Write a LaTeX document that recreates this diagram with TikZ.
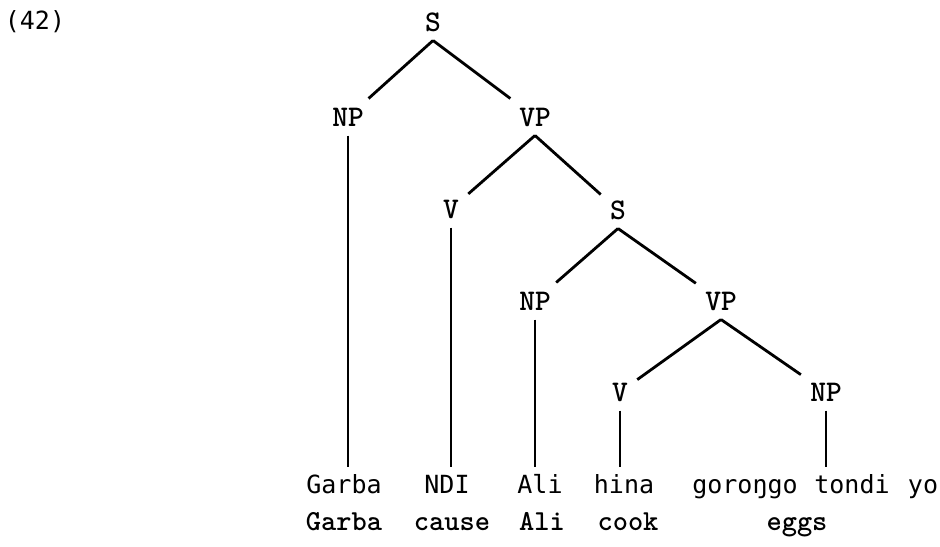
\documentclass[tikz,border=0pt]{standalone}
\usepackage{fontspec}
\newfontfamily\wordfont{DejaVu Sans Mono}

\tikzset{
  cat/.style={font=\fontsize{15}{17}\ttfamily\bfseries, inner sep=4.5pt, text height=9.1pt, text depth=0pt},
  word/.style={font=\fontsize{12.5}{14}\wordfont, anchor=base, inner xsep=0pt, inner ysep=3.8pt, text height=9pt, text depth=3pt},
  gloss/.style={font=\fontsize{14.5}{16}\ttfamily\bfseries, anchor=base, inner sep=0pt},
  branch/.style={line width=1.4pt}
}

\begin{document}
\begin{tikzpicture}[x=0.5pt, y=-0.5pt]
  \useasboundingbox (0,0) rectangle (940,546);
  \node[font=\fontsize{12.5}{14}\wordfont] (exno) at (35,22) {(42)};

  % categories
  \node[cat] (s1)  at (433,22)  {S};
  \node[cat] (np1) at (348,117) {NP};
  \node[cat] (vp1) at (535,117) {VP};
  \node[cat] (v1)  at (451,209) {V};
  \node[cat] (s2)  at (618,210) {S};
  \node[cat] (np2) at (535,301) {NP};
  \node[cat] (vp2) at (721,301) {VP};
  \node[cat] (v2)  at (620,392) {V};
  \node[cat] (np3) at (826,392) {NP};

  % Songhay line
  \node[word] (garba)   at (344,493) {Garba};
  \node[word] (ndi)     at (447,493) {NDI};
  \node[word] (ali)     at (540,493) {Ali};
  \node[word] (hina)    at (624,493) {hina};
  \node[word] (gorongo) at (745,493) {goroŋgo};
  \node[word] (tondi)   at (852,493) {tondi};
  \node[word] (yo)      at (923,493) {yo};

  % glosses
  \node[gloss] (gGarba) at (344,530) {Garba};
  \node[gloss] (gCause) at (452,530) {cause};
  \node[gloss] (gAli)   at (542,530) {Ali};
  \node[gloss] (gCook)  at (628,530) {cook};
  \node[gloss] (gEggs)  at (797,530) {eggs};

  % branches
  \draw[branch] (s1.south) -- (np1);
  \draw[branch] (s1.south) -- (vp1);
  \draw[branch] (vp1.south) -- (v1);
  \draw[branch] (vp1.south) -- (s2);
  \draw[branch] (s2.south) -- (np2);
  \draw[branch] (s2.south) -- (vp2);
  \draw[branch] (vp2.south) -- (v2);
  \draw[branch] (vp2.south) -- (np3);

  % leaves
  \draw[branch] (np1.south) -- (np1.south |- garba.north);
  \draw[branch] (v1.south) -- (v1.south |- ndi.north);
  \draw[branch] (np2.south) -- (np2.south |- ali.north);
  \draw[branch] (v2.south) -- (v2.south |- hina.north);
  \draw[branch] (np3.south) -- (np3.south |- tondi.north);
\end{tikzpicture}
\end{document}
